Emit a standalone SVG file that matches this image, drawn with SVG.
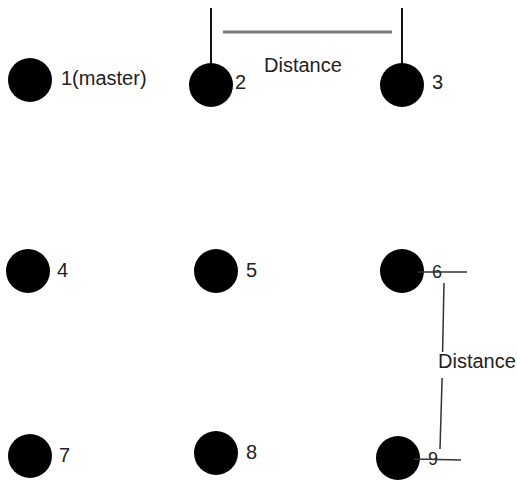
<svg xmlns="http://www.w3.org/2000/svg" width="517" height="480" viewBox="0 0 517 480">
  <style>
    .dot { fill: #000; }
    .lbl { font-family: "Liberation Sans", Arial, sans-serif; font-size: 20px; fill: #222; }
    .small { font-size: 18px; }
    .tick { stroke: #111; stroke-width: 2; fill: none; }
    .dim { stroke: #777; stroke-width: 3; fill: none; }
    .thin { stroke: #333; stroke-width: 1.5; fill: none; }
  </style>
  <rect width="517" height="480" fill="#fff"/>

  <g id="connectors">
    <line class="tick" x1="211" y1="8" x2="211" y2="64"/>
    <line class="tick" x1="402" y1="8" x2="402" y2="64"/>
    <line class="dim" x1="223" y1="32" x2="392" y2="32"/>
    <line class="thin" x1="444" y1="283" x2="442.6" y2="352"/>
    <line class="thin" x1="442.1" y1="378" x2="440" y2="449"/>
  </g>

  <g id="node1">
    <circle class="dot" cx="30" cy="80" r="22"/>
    <text class="lbl" x="61" y="85">1(master)</text>
  </g>
  <g id="node2">
    <circle class="dot" cx="211" cy="85" r="22"/>
    <text class="lbl" x="235" y="89">2</text>
  </g>
  <g id="node3">
    <circle class="dot" cx="402" cy="85" r="22"/>
    <text class="lbl" x="432" y="89">3</text>
  </g>
  <g id="node4">
    <circle class="dot" cx="28" cy="271" r="22"/>
    <text class="lbl" x="57" y="277">4</text>
  </g>
  <g id="node5">
    <circle class="dot" cx="216" cy="271" r="22"/>
    <text class="lbl" x="246" y="277">5</text>
  </g>
  <g id="node6">
    <circle class="dot" cx="402" cy="271" r="22"/>
    <text class="lbl small" x="432" y="278">6</text>
    <line class="thin" x1="418" y1="272" x2="467" y2="272"/>
  </g>
  <g id="node7">
    <circle class="dot" cx="30" cy="456" r="22"/>
    <text class="lbl" x="59" y="462">7</text>
  </g>
  <g id="node8">
    <circle class="dot" cx="216" cy="453" r="22"/>
    <text class="lbl" x="246" y="459">8</text>
  </g>
  <g id="node9">
    <circle class="dot" cx="398" cy="458" r="22"/>
    <text class="lbl small" x="428" y="465">9</text>
    <line class="thin" x1="414" y1="459" x2="461" y2="460"/>
  </g>

  <g id="labels">
    <text class="lbl" x="264" y="72">Distance</text>
    <text class="lbl" x="438" y="368">Distance</text>
  </g>
</svg>
